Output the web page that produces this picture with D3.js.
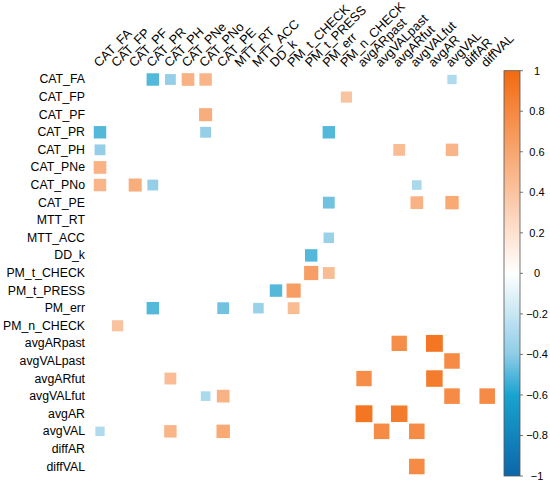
<!DOCTYPE html>
<html>
<head>
<meta charset="utf-8">
<script src="https://cdn.jsdelivr.net/npm/d3@7"></script>
<style>
  body { margin: 0; background: #fff; }
  svg { font-family: Arial, "Liberation Sans", sans-serif; }
</style>
</head>
<body>
<svg width="550" height="483"></svg>
<script>
const width = 550,
  height = 483;
const svg = d3.select('svg');

// Variables (same order for rows and columns)
const vars = [
  'CAT_FA', 'CAT_FP', 'CAT_PF', 'CAT_PR', 'CAT_PH', 'CAT_PNe', 'CAT_PNo', 'CAT_PE',
  'MTT_RT', 'MTT_ACC', 'DD_k', 'PM_t_CHECK', 'PM_t_PRESS', 'PM_err', 'PM_n_CHECK',
  'avgARpast', 'avgVALpast', 'avgARfut', 'avgVALfut', 'avgAR', 'avgVAL', 'diffAR', 'diffVAL',
];

// Significant correlations (one pair each, matrix is symmetric)
const pairA = [
  'CAT_FA', 'CAT_FA', 'CAT_FA', 'CAT_FA', 'CAT_FA',
  'CAT_FP', 'CAT_PF', 'CAT_PR', 'CAT_PR', 'CAT_PH', 'CAT_PH',
  'CAT_PNo', 'CAT_PE', 'CAT_PE', 'CAT_PE',
  'MTT_ACC', 'DD_k', 'PM_t_CHECK', 'PM_t_CHECK',
  'avgARpast', 'avgARpast', 'avgVALpast', 'avgARfut', 'avgVALfut', 'avgVALfut',
];
const pairB = [
  'CAT_PR', 'CAT_PH', 'CAT_PNe', 'CAT_PNo', 'avgVAL',
  'PM_n_CHECK', 'CAT_PNo', 'CAT_PNo', 'PM_err', 'avgARfut', 'avgVAL',
  'avgVALfut', 'PM_err', 'avgVALfut', 'avgVAL',
  'PM_err', 'PM_t_PRESS', 'PM_t_PRESS', 'PM_err',
  'avgARfut', 'avgAR', 'avgVAL', 'avgAR', 'avgVAL', 'diffVAL',
];
const pairR = [
  -0.5, -0.38, 0.52, 0.5, -0.28,
  0.4, 0.55, -0.38, -0.5, 0.45, 0.5,
  -0.3, -0.45, 0.52, 0.58,
  -0.36, -0.5, 0.65, 0.45,
  0.76, 0.92, 0.78, 0.88, 0.78, 0.78,
];

// Colour bar ticks
const legendTicks = [1, 0.8, 0.6, 0.4, 0.2, 0, -0.2, -0.4, -0.6, -0.8, -1];

// Expand to both triangles
const cells = [];
pairA.forEach((a, i) => {
  cells.push({ row: a, col: pairB[i], r: pairR[i] });
  cells.push({ row: pairB[i], col: a, r: pairR[i] });
});

const x = d3.scaleBand().domain(vars).range([91.2, 496]);
const y = d3.scaleBand().domain(vars).range([70.7, 475.3]);

const color = d3
  .scaleLinear()
  .domain([-1, -0.6, -0.4, 0, 1])
  .range(['#0d66a9', '#19a3d0', '#8ecce6', '#ffffff', '#f36a10'])
  .interpolate(d3.interpolateRgb);

// Squares, side proportional to sqrt(|r|)
const side = (d, band) => band * Math.sqrt(Math.abs(d.r));
svg
  .append('g')
  .selectAll('rect')
  .data(cells)
  .join('rect')
  .attr('x', (d) => x(d.col) + (x.bandwidth() - side(d, x.bandwidth())) / 2)
  .attr('y', (d) => y(d.row) + (y.bandwidth() - side(d, y.bandwidth())) / 2)
  .attr('width', (d) => side(d, x.bandwidth()))
  .attr('height', (d) => side(d, y.bandwidth()))
  .attr('fill', (d) => color(d.r));

// Row labels
svg
  .append('g')
  .selectAll('text')
  .data(vars)
  .join('text')
  .attr('x', 85)
  .attr('y', (d) => y(d) + y.bandwidth() / 2)
  .attr('text-anchor', 'end')
  .attr('dominant-baseline', 'central')
  .attr('font-size', 12.3)
  .text((d) => d);

// Column labels, rotated
svg
  .append('g')
  .selectAll('text')
  .data(vars)
  .join('text')
  .attr('transform', (d) => `translate(${x(d) + x.bandwidth() / 2 - 1},${y.range()[0] - 3}) rotate(-45)`)
  .attr('text-anchor', 'start')
  .attr('font-size', 12.8)
  .text((d) => d);

// Colour bar
const barX = 504,
  barW = 16;
const yBar = d3.scaleLinear().domain([1, -1]).range([70.7, 476]);

const grad = svg
  .append('defs')
  .append('linearGradient')
  .attr('id', 'cbar')
  .attr('x1', 0)
  .attr('y1', 0)
  .attr('x2', 0)
  .attr('y2', 1);
grad
  .selectAll('stop')
  .data(d3.range(0, 1.0001, 0.02))
  .join('stop')
  .attr('offset', (t) => t)
  .attr('stop-color', (t) => color(1 - 2 * t));

svg
  .append('rect')
  .attr('x', barX)
  .attr('y', yBar(1))
  .attr('width', barW)
  .attr('height', yBar(-1) - yBar(1))
  .attr('fill', 'url(#cbar)')
  .attr('stroke', '#555')
  .attr('stroke-width', 0.8);

const legend = svg.append('g');
legend
  .selectAll('line')
  .data(legendTicks)
  .join('line')
  .attr('x1', barX + barW)
  .attr('x2', barX + barW + 3)
  .attr('y1', (d) => yBar(d))
  .attr('y2', (d) => yBar(d))
  .attr('stroke', '#555')
  .attr('stroke-width', 0.8);
legend
  .selectAll('text')
  .data(legendTicks)
  .join('text')
  .attr('x', 537)
  .attr('y', (d) => yBar(d))
  .attr('text-anchor', 'middle')
  .attr('dominant-baseline', 'central')
  .attr('font-size', 11)
  .text((d) => d3.format('')(d));
</script>
</body>
</html>
